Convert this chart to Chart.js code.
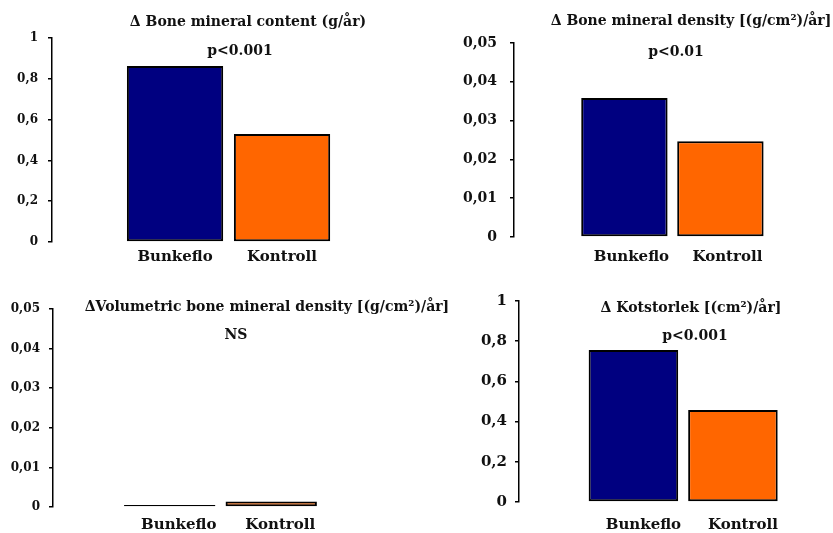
<!DOCTYPE html>
<html>
<head>
<meta charset="utf-8">
<script src="https://cdn.jsdelivr.net/npm/chart.js@4.4.1/dist/chart.umd.min.js"></script>
<style>
  html, body { margin: 0; padding: 0; background: #fff; }
  #wrap { position: relative; width: 833px; height: 533px; overflow: hidden; background: #fff; }
  canvas { position: absolute; }
</style>
</head>
<body>
<div id="wrap">
  <canvas id="c1" width="416" height="270" style="left:0;top:0"></canvas>
  <canvas id="c2" width="417" height="270" style="left:416px;top:0"></canvas>
  <canvas id="c3" width="470" height="263" style="left:0;top:270px"></canvas>
  <canvas id="c4" width="417" height="263" style="left:416px;top:270px"></canvas>
</div>
<script>
// Groups compared in every panel
const categories = ['Bunkeflo', 'Kontroll'];

// Yearly change per group
const bmcValues = [0.863, 0.53];      // Δ Bone mineral content (g/år)
const bmdValues = [0.0358, 0.0247];   // Δ Bone mineral density [(g/cm²)/år]
const vbmdValues = [0.0005, 0.0014];  // Δ Volumetric bone mineral density
const sizeValues = [0.756, 0.458];    // Δ Kotstorlek [(cm²)/år]

// Y axis ticks
const unitTickValues = [0, 0.2, 0.4, 0.6, 0.8, 1];
const unitTickLabels = ['0', '0,2', '0,4', '0,6', '0,8', '1'];
const smallTickValues = [0, 0.01, 0.02, 0.03, 0.04, 0.05];
const smallTickLabels = ['0', '0,01', '0,02', '0,03', '0,04', '0,05'];

// Panel headings and significance
const titles = [
  'Δ Bone mineral content (g/år)',
  'Δ Bone mineral density [(g/cm²)/år]',
  'ΔVolumetric bone mineral density [(g/cm²)/år]',
  'Δ Kotstorlek [(cm²)/år]'
];
const pLabels = ['p<0.001', 'p<0.01', 'NS', 'p<0.001'];

const barColors = ['#000080', '#FF6600'];
const FONT = '"DejaVu Serif", "Liberation Serif", serif';
const TEXT = '#111111';

// Draws the heading lines of each panel
const panelText = {
  id: 'panelText',
  afterDraw(chart, args, opts) {
    const ctx = chart.ctx;
    ctx.save();
    ctx.fillStyle = TEXT;
    ctx.textAlign = 'center';
    ctx.textBaseline = 'middle';
    (opts.items || []).forEach(it => {
      ctx.font = 'bold ' + it.size + 'px ' + FONT;
      ctx.fillText(it.text, it.x, it.y);
    });
    ctx.restore();
  }
};

function makePanel(id, p) {
  return new Chart(document.getElementById(id), {
    type: 'bar',
    data: {
      datasets: [{
        data: categories.map((c, i) => ({ x: i, y: p.values[i] })),
        backgroundColor: barColors,
        borderColor: '#000',
        borderWidth: 2,
        borderSkipped: false,
        barPercentage: 0.9,
        categoryPercentage: 1
      }]
    },
    options: {
      responsive: false,
      animation: false,
      events: [],
      layout: { padding: { left: 0, top: p.top, right: p.right, bottom: 0 } },
      plugins: {
        legend: { display: false },
        tooltip: { enabled: false },
        title: { display: false },
        panelText: { items: p.text }
      },
      scales: {
        x: {
          type: 'linear',
          offset: false,
          min: -1.15,
          max: 1.85,
          grid: { display: false, drawTicks: false },
          border: { display: false },
          afterBuildTicks: s => { s.ticks = categories.map((c, i) => ({ value: i })); },
          afterFit: s => { s.height = p.xH; },
          ticks: {
            autoSkip: false,
            maxRotation: 0,
            padding: p.xPad,
            labelOffset: p.xOff,
            color: TEXT,
            font: { family: FONT, size: 15, weight: 'bold' },
            callback: (v, i) => categories[i]
          }
        },
        y: {
          type: 'linear',
          min: 0,
          max: p.tickValues[p.tickValues.length - 1],
          afterBuildTicks: s => { s.ticks = p.tickValues.map(v => ({ value: v })); },
          afterFit: s => { s.width = p.yW; },
          grid: { drawOnChartArea: false, drawTicks: true, tickLength: 4, color: '#000', lineWidth: 1.5 },
          border: { display: true, color: '#000', width: 1.5 },
          ticks: {
            padding: p.yPad,
            color: TEXT,
            font: { family: FONT, size: p.yFont, weight: 'bold' },
            callback: (v, i) => p.tickLabels[i]
          }
        }
      }
    },
    plugins: [panelText]
  });
}

makePanel('c1', {
  values: bmcValues, tickValues: unitTickValues, tickLabels: unitTickLabels,
  top: 38, right: 43, yW: 52, xH: 28, yFont: 12, yPad: 10, xPad: 6, xOff: 0,
  text: [
    { text: titles[0], x: 248, y: 22, size: 14 },
    { text: pLabels[0], x: 240, y: 51, size: 14 }
  ]
});

makePanel('c2', {
  values: bmdValues, tickValues: smallTickValues, tickLabels: smallTickLabels,
  top: 43, right: 31, yW: 98, xH: 33, yFont: 14, yPad: 13, xPad: 11, xOff: 7,
  text: [
    { text: titles[1], x: 275, y: 21, size: 14 },
    { text: pLabels[1], x: 260, y: 52, size: 14 }
  ]
});

makePanel('c3', {
  values: vbmdValues, tickValues: smallTickValues, tickLabels: smallTickLabels,
  top: 39, right: 112.5, yW: 53, xH: 26, yFont: 12, yPad: 9, xPad: 9, xOff: 9,
  text: [
    { text: titles[2], x: 267, y: 37, size: 14 },
    { text: pLabels[2], x: 236, y: 65, size: 14 }
  ]
});

makePanel('c4', {
  values: sizeValues, tickValues: unitTickValues, tickLabels: unitTickLabels,
  top: 31, right: 15.5, yW: 103, xH: 31, yFont: 15, yPad: 8, xPad: 14, xOff: 10,
  text: [
    { text: titles[3], x: 275, y: 38, size: 14 },
    { text: pLabels[3], x: 279, y: 66, size: 14 }
  ]
});
</script>
</body>
</html>
